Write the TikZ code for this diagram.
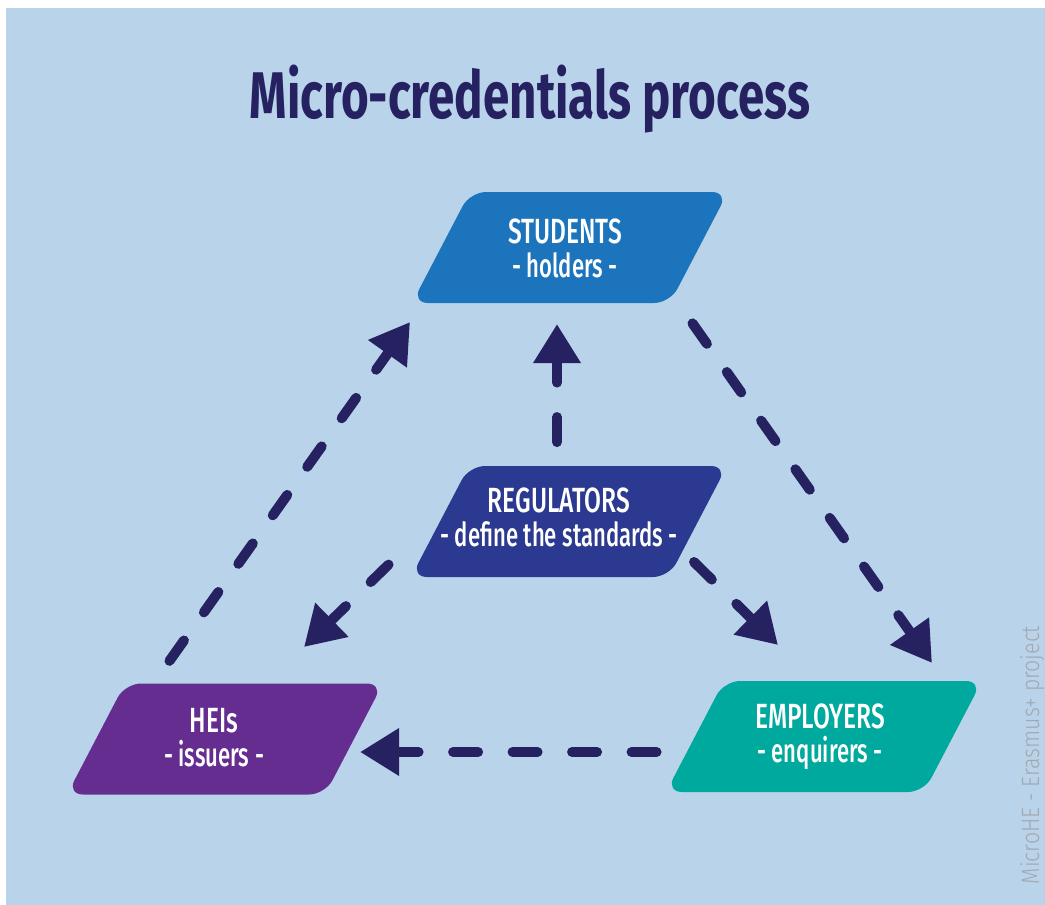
\documentclass[tikz,border=0pt]{standalone}
\usepackage{fontspec}
\setmainfont{Fira Sans}
\newfontfamily\titlefont[FakeStretch=0.72]{Fira Sans}
\newfontfamily\boxfont[FakeStretch=0.70]{Fira Sans Medium}
\newfontfamily\subfont[FakeStretch=0.67]{Fira Sans Medium}
\newfontfamily\wmfont[FakeStretch=0.85]{Fira Sans Light}
\usetikzlibrary{arrows.meta}
\definecolor{bg}{HTML}{B9D4EA}
\definecolor{navy}{HTML}{262262}
\definecolor{cstud}{HTML}{1C75BC}
\definecolor{creg}{HTML}{2B3990}
\definecolor{chei}{HTML}{662D91}
\definecolor{cemp}{HTML}{00A99D}
\definecolor{wmgray}{HTML}{A4A8AE}
\newcommand\pgram[3]{%
  \fill[#3,rounded corners=16pt] ({#1-100},{#2-55.5}) -- ({#1+158},{#2-55.5}) -- ({#1+100},{#2+55.5}) -- ({#1-158},{#2+55.5}) -- cycle;}
\newcommand\lbltext[2]{{\boxfont\fontsize{35}{34}\selectfont #1}\\{\subfont\fontsize{33}{34}\selectfont #2}}
\tikzset{
  flow/.style={draw=navy, line width=10pt, line cap=round, dash pattern=on 25pt off 34.5pt,
    dash phase=3pt, {Triangle[length=39pt,width=45pt]}-},
  lbl/.style={text=white, align=center, font=\fontsize{33}{34}\selectfont},
}
\begin{document}
\begin{tikzpicture}[x=1pt,y=-1pt]
\useasboundingbox (0,0) rectangle (1045,905);
\fill[white] (0,0) rectangle (1045,905);
\fill[bg] (6,8) rectangle (1045,905);
% title
\node[font=\titlefont\bfseries\fontsize{66}{70}\selectfont, text=navy, anchor=base] (title) at (530,118) {Micro-credentials process};
% boxes
\pgram{570}{247.5}{cstud}
\pgram{569}{521.5}{creg}
\pgram{225}{739}{chei}
\pgram{824}{736.5}{cemp}
\node[lbl] (students) at (565,248) {\lbltext{STUDENTS}{- holders -}};
\node[lbl] (regulators) at (559,517) {\lbltext{REGULATORS}{- define the standards -}};
\node[lbl] (heis) at (214,738) {\lbltext{HEIs}{- issuers -}};
\node[lbl] (employers) at (820,737) {\lbltext{EMPLOYERS}{- enquirers -}};
% arrow tips (e) and tails (s)
\coordinate (a1e) at (410,322);
\coordinate (a1s) at (168.1,662.8);
\coordinate (a2e) at (932,663);
\coordinate (a2s) at (691.1,321.4);
\coordinate (a3e) at (360,752);
\coordinate (a3s) at (659,752);
\coordinate (a4e) at (557,324);
\coordinate (a4s) at (557,444.5);
\coordinate (a5e) at (304,647);
\coordinate (a5s) at (390.3,562.9);
\coordinate (a6e) at (778,645);
\coordinate (a6s) at (692.3,560.3);
\draw[flow] (a1e) -- (a1s);
\draw[flow] (a2e) -- (a2s);
\draw[flow] (a3e) -- (a3s);
\draw[flow] (a4e) -- (a4s);
\draw[flow] (a5e) -- (a5s);
\draw[flow] (a6e) -- (a6s);
% watermark
\node[rotate=90, anchor=base, text=wmgray, font=\wmfont\fontsize{25}{27}\selectfont] (wm) at (1039,755) {MicroHE - Erasmus+ project};
\end{tikzpicture}
\end{document}
